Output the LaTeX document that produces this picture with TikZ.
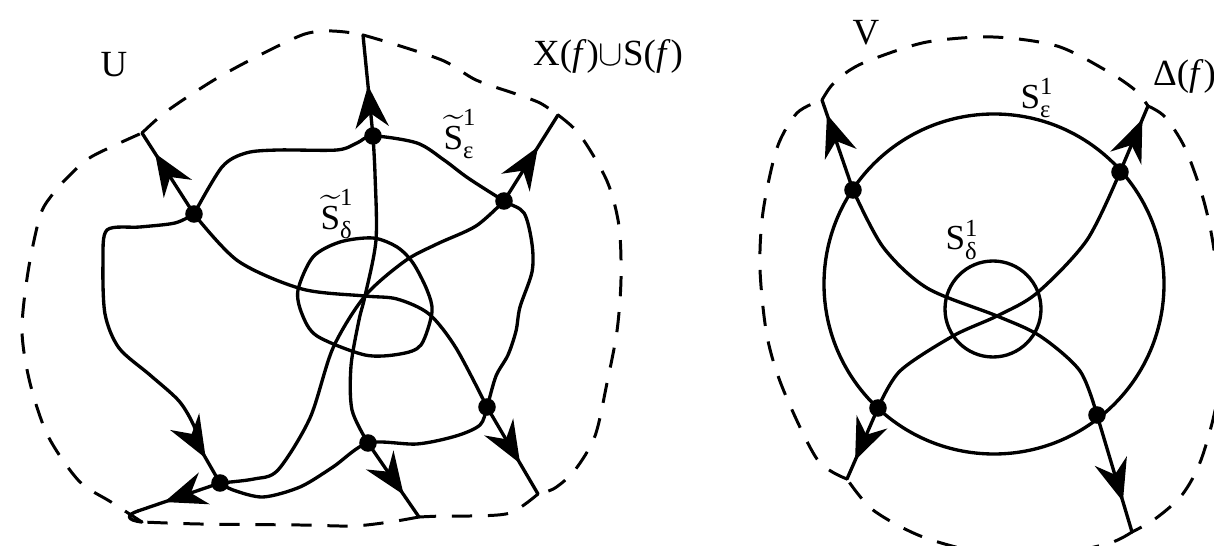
\documentclass[tikz,border=0pt]{standalone}
\usepackage{amsmath}
\usepackage{fontspec}
\setmainfont{Liberation Serif}
\usetikzlibrary{arrows.meta,decorations.markings}

\tikzset{
  curve/.style={line width=1.9pt, line cap=round, line join=round},
  bound/.style={line width=1.7pt, dash pattern=on 11.5pt off 9pt},
  vertex/.style={circle, fill, inner sep=0pt, minimum size=10pt},
  flow/.style={curve, postaction=decorate, decoration={markings,
      mark=at position #1 with {\arrow{Stealth[length=24pt,width=19pt,inset=8pt]}}}},
  flow/.default=0.6,
  bigtext/.style={font=\fontsize{21}{24}\selectfont},
  smalltext/.style={font=\fontsize{20}{22}\selectfont}
}

\begin{document}
\begin{tikzpicture}[x=0.02cm, y=-0.02cm]
  \useasboundingbox (0,0) rectangle (1214,546);

  % left picture, U
  \node[vertex] (u1) at (194,214) {};
  \node[vertex] (u2) at (373,136) {};
  \node[vertex] (u3) at (504,201) {};
  \node[vertex] (u4) at (487,407) {};
  \node[vertex] (u5) at (368,443) {};
  \node[vertex] (u6) at (220,483) {};
  \coordinate (uo) at (365,296);
  \coordinate (ua1) at (142,133);
  \coordinate (ub1) at (363,35);
  \coordinate (uc1) at (558,115);
  \coordinate (ua2) at (538,494);
  \coordinate (ub2) at (419,517);
  \coordinate (uc0) at (138,511);
  \coordinate (uc2) at (142,522);

  \draw[curve] plot[smooth] coordinates {(u1.center) (238,261) (302,289) (uo)
    (397,299) (429,314) (456,348) (u4.center)};
  \draw[curve] plot[smooth] coordinates {(u2.center) (375,174) (376,240) (uo)
    (359,320) (351,366) (352,410) (u5.center)};
  \draw[curve] plot[smooth] coordinates {(u3.center) (476,226) (437,244) (405,261) (uo)
    (333,348) (310,418) (278,470) (254,479) (u6.center)};
  \draw[flow=0.75] (u1.center) -- (ua1);
  \draw[flow=0.5] (u2.center) -- (ub1);
  \draw[flow=0.63] (u3.center) -- (uc1);
  \draw[flow=0.65] (u4.center) -- (ua2);
  \draw[flow=0.7] (u5.center) -- (ub2);
  \draw[flow=0.68] (u6.center) -- (uc0);
  \draw[curve] (uc0) .. controls (126,515) and (126,520) .. (uc2);

  \draw[curve] plot[smooth] coordinates {(u1.center) (222,167) (246,153) (278,150)
    (337,150) (357,143) (u2.center) (417,143) (444,160) (468,178) (u3.center)
    (524,213) (532,244) (532,272) (520,307) (516,331) (508,355) (496,376)
    (u4.center) (480,425) (456,436) (417,444) (u5.center) (333,467) (300,487)
    (263,497) (233,490) (u6.center)};
  \draw[curve] plot[smooth] coordinates {(u1.center) (175,223) (140,227)
    (107,230) (103,262) (105,314) (119,348) (150,375) (179,401) (194,426)
    (201,450)};
  \draw[flow=0.25] (201,450) -- (u6.center);
  \draw[curve] plot[smooth cycle] coordinates {(298,290) (313,257) (340,242)
    (373,238) (397,247) (413,263) (427,290) (432,312) (421,345) (400,354)
    (365,355) (317,336) (302,314)};

  \draw[bound] plot[smooth] coordinates {(ua1) (167,111) (214,80) (258,56)
    (302,35) (325,31) (345,32) (ub1)};
  \draw[bound] plot[smooth] coordinates {(ub1) (397,45) (444,61) (476,80)
    (516,94) (540,103) (uc1)};
  \draw[bound] plot[smooth] coordinates {(uc1) (580,135) (607,181) (619,226)
    (621,279) (617,331) (607,383) (595,436) (575,470) (555,488) (ua2)};
  \draw[bound] plot[smooth] coordinates {(ua2) (510,513) (470,516) (443,516) (ub2)};
  \draw[bound] plot[smooth] coordinates {(ub2) (390,522) (353,526) (300,525)
    (200,524) (uc2)};
  \draw[bound] plot[smooth] coordinates {(uc2) (111,502) (79,481) (48,436)
    (30,383) (22,331) (28,272) (40,216) (52,195) (67,178) (91,157) (ua1)};

  \node[bigtext] (lblu) at (114,65) {U};
  \node[bigtext] (lblx) at (608,56) {X(\textit{f})$\cup$S(\textit{f})};
  \node[smalltext] (lblse) at (460,134) {$\widetilde{\text{S}}^{\text{1}}_{\text{ε}}$};
  \node[smalltext] (lblsd) at (337,214) {$\widetilde{\text{S}}^{\text{1}}_{\text{δ}}$};

  % right picture, V
  \node[vertex] (v1) at (853,190) {};
  \node[vertex] (v2) at (1120,172) {};
  \node[vertex] (v3) at (878,408) {};
  \node[vertex] (v4) at (1097,415) {};
  \coordinate (vo) at (997,316);
  \coordinate (va1) at (822,100);
  \coordinate (vb1) at (1148,106);
  \coordinate (va2) at (1132,532);
  \coordinate (vb2) at (847,479);

  \draw[curve] (994,284) circle[radius=170];
  \draw[curve] (993,309) circle[radius=48];
  \draw[curve] plot[smooth] coordinates {(v1.center) (883,247) (927,288) (vo)
    (1040,336) (1080,371) (v4.center)};
  \draw[curve] plot[smooth] coordinates {(v2.center) (1087,240) (1037,293) (vo)
    (953,336) (900,371) (v3.center)};
  \draw[flow=0.84] (v1.center) -- (va1);
  \draw[flow=0.8] (v2.center) -- (vb1);
  \draw[flow=0.74] (v4.center) -- (va2);
  \draw[flow=0.74] (v3.center) -- (vb2);

  \draw[bound] plot[smooth] coordinates {(va1) (832,85) (850,70) (873,59)
    (927,42) (993,37) (1057,46) (1107,71) (1135,90) (vb1)};
  \draw[bound] plot[smooth] coordinates {(vb1) (1165,117) (1185,148) (1203,198)
    (1214,250) (1221,330) (1217,400) (1201,460) (1182,495) (1155,519) (va2)};
  \draw[bound] plot[smooth] coordinates {(va2) (1110,543) (1060,553) (990,554)
    (923,537) (873,510) (vb2)};
  \draw[bound] plot[smooth] coordinates {(vb2) (817,459) (783,389) (767,336)
    (760,269) (763,212) (777,148) (797,113) (va1)};

  \node[bigtext] (lblv) at (866,33) {V};
  \node[smalltext] (lblse2) at (1037,98) {$\text{S}^{\text{1}}_{\text{ε}}$};
  \node[smalltext] (lblsd2) at (962,240) {$\text{S}^{\text{1}}_{\text{δ}}$};
  \node[bigtext, anchor=west] (lbld) at (1147,76) {Δ(\textit{f})};
\end{tikzpicture}
\end{document}
